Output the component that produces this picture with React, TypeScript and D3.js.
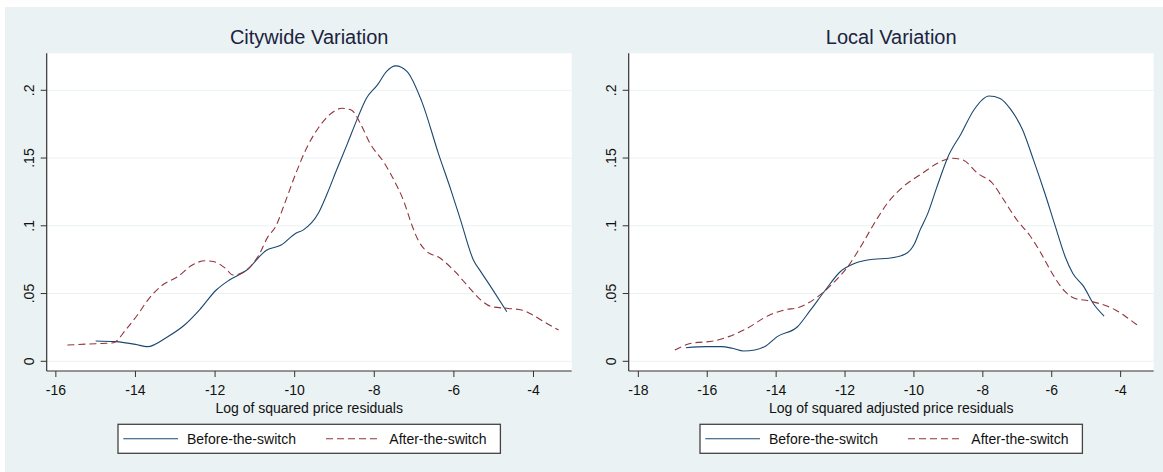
import * as d3 from "d3"

type Pt = [number, number]

// density estimates
const cityBefore: Pt[] = [
  [-15.0, 0.015], [-14.5, 0.0145], [-14.0, 0.0125], [-13.7, 0.0108], [-13.2, 0.018],
  [-12.76, 0.027], [-12.39, 0.038], [-11.97, 0.0526], [-11.64, 0.06], [-11.2, 0.0674],
  [-10.71, 0.082], [-10.34, 0.0858], [-9.97, 0.0945], [-9.78, 0.097], [-9.41, 0.109],
  [-9.18, 0.124], [-8.95, 0.141], [-8.67, 0.161], [-8.44, 0.178], [-8.2, 0.194],
  [-7.92, 0.204], [-7.69, 0.214], [-7.46, 0.218], [-7.18, 0.214], [-6.81, 0.192],
  [-6.39, 0.1535], [-6.07, 0.126], [-5.83, 0.104], [-5.51, 0.0748], [-5.32, 0.066],
  [-5.05, 0.054], [-4.67, 0.0366],
]
const cityAfter: Pt[] = [
  [-15.71, 0.012], [-15.0, 0.013], [-14.6, 0.0135], [-14.5, 0.0145], [-14.25, 0.023],
  [-13.92, 0.0354], [-13.69, 0.0452], [-13.32, 0.0563], [-12.94, 0.0624], [-12.57, 0.0711],
  [-12.25, 0.0742], [-12.02, 0.0735], [-11.74, 0.0686], [-11.55, 0.0637], [-11.27, 0.0661],
  [-10.9, 0.0784], [-10.67, 0.092], [-10.48, 0.0993], [-10.25, 0.1166], [-9.97, 0.1387],
  [-9.69, 0.158], [-9.41, 0.172], [-9.13, 0.1818], [-8.81, 0.1867], [-8.58, 0.1855],
  [-8.35, 0.1756], [-8.11, 0.161], [-7.74, 0.146], [-7.51, 0.134], [-7.27, 0.119],
  [-7.04, 0.0993], [-6.9, 0.0895], [-6.72, 0.0821], [-6.34, 0.076], [-5.97, 0.0661],
  [-5.6, 0.0539], [-5.32, 0.0452], [-5.05, 0.0403], [-4.67, 0.0391], [-4.3, 0.0379],
  [-4.02, 0.0342], [-3.74, 0.0292], [-3.37, 0.0231],
]
const localBefore: Pt[] = [
  [-16.62, 0.01], [-16.02, 0.0108], [-15.59, 0.0108], [-15.27, 0.0096], [-14.94, 0.0076],
  [-14.62, 0.0083], [-14.3, 0.0113], [-13.97, 0.0182], [-13.38, 0.0255], [-13.0, 0.0379],
  [-12.57, 0.0526], [-12.14, 0.0661], [-11.71, 0.0723], [-11.17, 0.0753], [-10.73, 0.076],
  [-10.25, 0.0792], [-9.98, 0.087], [-9.82, 0.097], [-9.6, 0.109], [-9.33, 0.1289],
  [-9.01, 0.151], [-8.63, 0.168], [-8.26, 0.1855], [-7.82, 0.1958], [-7.5, 0.194],
  [-7.18, 0.1855], [-6.85, 0.171], [-6.53, 0.1486], [-6.2, 0.124], [-5.9, 0.1],
  [-5.61, 0.0772], [-5.39, 0.065], [-5.07, 0.0551], [-4.8, 0.0428], [-4.48, 0.0334],
]
const localAfter: Pt[] = [
  [-16.94, 0.0083], [-16.46, 0.0133], [-15.81, 0.015], [-15.38, 0.0182], [-14.84, 0.0244],
  [-14.19, 0.0342], [-13.76, 0.0379], [-13.33, 0.0399], [-12.79, 0.0477], [-12.35, 0.0576],
  [-11.92, 0.0698], [-11.49, 0.087], [-11.1, 0.104], [-10.73, 0.118],
  [-10.31, 0.1289], [-9.76, 0.1387], [-9.33, 0.146], [-8.9, 0.1498], [-8.58, 0.1486],
  [-8.15, 0.1387], [-7.72, 0.1314], [-7.39, 0.119], [-7.01, 0.1043], [-6.64, 0.093],
  [-6.31, 0.0797], [-5.99, 0.065], [-5.61, 0.0514], [-5.34, 0.0465], [-4.91, 0.0445],
  [-4.48, 0.0415], [-4.15, 0.0379], [-3.78, 0.0317], [-3.45, 0.0255],
]

const yTicks = [0, 0.05, 0.1, 0.15, 0.2]
const yTickLabels = ["0", ".05", ".1", ".15", ".2"]
const cityXTicks = [-16, -14, -12, -10, -8, -6, -4]
const localXTicks = [-18, -16, -14, -12, -10, -8, -6, -4]
const seriesNames = ["Before-the-switch", "After-the-switch"]

const W = 1163
const H = 472
const FONT = "'Liberation Sans', Arial, sans-serif"
const BG = "#eaf2f3"
const BLUE = "#1a476f"
const RED = "#90353b"
const INK = "#1c2340"

interface PanelProps {
  left: number
  right: number
  title: string
  xLabel: string
  xDomain: [number, number]
  xTicks: number[]
  before: Pt[]
  after: Pt[]
}

function Panel({ left, right, title, xLabel, xDomain, xTicks, before, after }: PanelProps) {
  const top = 53.3
  const bottom = 371
  const x = d3.scaleLinear().domain(xDomain).range([left, right])
  const y = d3.scaleLinear().domain([-0.00716, 0.2273]).range([bottom, top])
  const line = d3
    .line<Pt>()
    .x((d) => x(d[0]))
    .y((d) => y(d[1]))
    .curve(d3.curveMonotoneX)
  const cx = (left + right) / 2
  const legL = cx - 191.2
  const legY = 438.8

  return (
    <g fontFamily={FONT}>
      <text x={cx} y={44.3} textAnchor="middle" fontSize={20} fill={INK}>
        {title}
      </text>
      <rect x={left} y={top} width={right - left} height={bottom - top} fill="#fff" />
      {yTicks.map((t) => (
        <line key={t} x1={left} x2={right} y1={y(t)} y2={y(t)} stroke={BG} strokeWidth={1} />
      ))}
      <path d={line(before) || ""} fill="none" stroke={BLUE} strokeWidth={1.1} />
      <path d={line(after) || ""} fill="none" stroke={RED} strokeWidth={1.1} strokeDasharray="7,4" />
      {/* y axis */}
      <line x1={left} x2={left} y1={top} y2={bottom} stroke="#333" strokeWidth={1.2} />
      {yTicks.map((t, i) => (
        <g key={t}>
          <line x1={left - 6} x2={left} y1={y(t)} y2={y(t)} stroke="#333" strokeWidth={1} />
          <text
            transform={`translate(${left - 12.8},${y(t)}) rotate(-90)`}
            textAnchor="middle"
            fontSize={14}
            fill="#111"
          >
            {yTickLabels[i]}
          </text>
        </g>
      ))}
      {/* x axis */}
      <line x1={left} x2={right} y1={bottom} y2={bottom} stroke="#333" strokeWidth={1.2} />
      {xTicks.map((t) => (
        <g key={t}>
          <line x1={x(t)} x2={x(t)} y1={bottom} y2={bottom + 6} stroke="#333" strokeWidth={1} />
          <text x={x(t)} y={395} textAnchor="middle" fontSize={14} fill="#111">
            {t}
          </text>
        </g>
      ))}
      <text x={cx} y={412.5} textAnchor="middle" fontSize={14} fill="#111">
        {xLabel}
      </text>
      {/* legend */}
      <rect x={legL} y={424.3} width={382.4} height={29} fill="#fff" stroke="#444" strokeWidth={1.3} />
      <line x1={legL + 5.3} x2={legL + 60} y1={legY} y2={legY} stroke={BLUE} strokeWidth={1.1} />
      <text x={legL + 69} y={legY + 5} fontSize={14} fill="#111">
        {seriesNames[0]}
      </text>
      <line x1={legL + 208} x2={legL + 262.3} y1={legY} y2={legY} stroke={RED} strokeWidth={1.1} strokeDasharray="7,4" />
      <text x={legL + 271.3} y={legY + 5} fontSize={14} fill="#111">
        {seriesNames[1]}
      </text>
    </g>
  )
}

export default function App() {
  return (
    <div style={{ position: "absolute", left: 0, top: 0 }}>
      <svg width={W} height={H} style={{ display: "block", background: "#fff" }}>
        <rect x={5} y={7} width={W - 5} height={H - 7} fill={BG} />
        <Panel
          left={46.7}
          right={571.7}
          title="Citywide Variation"
          xLabel="Log of squared price residuals"
          xDomain={[-16.23, -3.04]}
          xTicks={cityXTicks}
          before={cityBefore}
          after={cityAfter}
        />
        <Panel
          left={628.7}
          right={1153.7}
          title="Local Variation"
          xLabel="Log of squared adjusted price residuals"
          xDomain={[-18.28, -3.04]}
          xTicks={localXTicks}
          before={localBefore}
          after={localAfter}
        />
      </svg>
    </div>
  )
}
